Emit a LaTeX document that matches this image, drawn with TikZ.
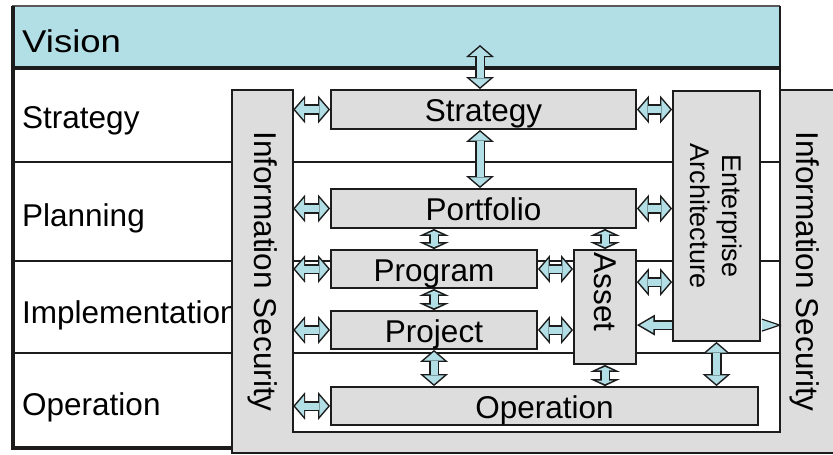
\documentclass[tikz,border=0pt]{standalone}
\usepackage{fontspec}
\setmainfont{Liberation Sans}
\newfontfamily\visionfont[FakeStretch=1.16]{Liberation Sans}
\usetikzlibrary{arrows.meta,calc}
\definecolor{skyband}{RGB}{178,222,229}
\definecolor{panelgray}{RGB}{221,221,221}
\definecolor{ink}{RGB}{28,28,28}
\newcommand{\bigtext}{\fontsize{31.5}{36}\selectfont}

\begin{document}
\begin{tikzpicture}[x=1pt,y=-1pt,
  box/.style={draw=ink,fill=panelgray,line width=1.8pt,inner sep=0pt,
    text height=28pt,text depth=4pt,font=\bigtext},
  rowlabel/.style={anchor=base west,inner sep=0pt,font=\bigtext},
  sidelabel/.style={rotate=-90,inner sep=0pt,align=center},
  rule/.style={draw=ink,line width=2.7pt},
  wire/.style={draw=ink,line width=10.5pt,<->,>={Triangle[length=12pt,width=28pt,line width=0pt]}},
  core/.style={draw=skyband,line width=7pt,shorten <=2pt,shorten >=2pt,<->,
    >={Triangle[length=8.8pt,width=20.5pt,line width=0pt]}},
  wireS/.style={wire,>={Triangle[length=7pt,width=30pt,line width=0pt]}},
  coreS/.style={core,>={Triangle[length=3.5pt,width=16.5pt,line width=0pt]}}]
  \useasboundingbox (0,0) rectangle (833,455);

  \fill[skyband] (12,6) rectangle (780,68);
  \draw[draw=gray!70!black,line width=1.2pt] (12,6) -- (780,6);
  \draw[rule,line width=3.2pt] (13,6) -- (13,448) -- (232,448);
  \draw[rule,line width=3.5pt] (12,68) -- (780,68);
  \foreach \y in {162,261,353}
    \draw[rule] (12,\y) -- (780,\y);
  \draw[rule] (780,6) -- (780,90);

  \node[rowlabel,font=\visionfont\bigtext] (vision) at (22,52) {Vision};
  \foreach \n/\y/\t in {rowS/128/Strategy, rowP/226/Planning,
      rowI/323/Implementation, rowO/415/Operation}
    \node[rowlabel] (\n) at (22,\y) {\t};

  \draw[draw=ink,fill=panelgray,line width=2.2pt] (232,90) -- (293,90) -- (293,432)
    -- (780,432) -- (780,90) -- (850,90) -- (850,453) -- (232,453) -- cycle;
  \node[inner sep=0pt,minimum width=61pt,minimum height=363pt,font=\bigtext]
    (infoL) at (262.5,271.5) {\rotatebox{-90}{Information Security}};
  \node[inner sep=0pt,minimum width=50pt,minimum height=363pt,font=\bigtext]
    (infoR) at (805,271.5) {\rotatebox{-90}{Information Security}};

  \foreach \n/\x/\y/\w/\h/\t in {strat/483.5/109.5/305/39/Strategy,
      port/483.5/208.5/305/39/Portfolio, prog/434/269/206/38/Program,
      proj/434/330/206/38/Project, oper/544.5/406/427/38/Operation,
      asset/605/307/62/114/{}, ea/716.5/216/87/250/{}}
    \node[box,minimum width=\w pt,minimum height=\h pt] (\n) at (\x,\y) {\t};
  \node[sidelabel,font=\bigtext] (assetText) at ($(asset.center)+(0,-15)$) {Asset};
  \node[sidelabel,font=\fontsize{27}{32}\selectfont] (eaText) at (ea.center)
    {Enterprise\\Architecture};

  \coordinate (visTip) at (480,45);
  \coordinate (visMid) at (visTip |- strat.south);
  \coordinate (assetA) at ($(asset.north east)+(0,33)$);
  \coordinate (assetB) at ($(asset.north east)+(0,76)$);

  \foreach \a/\b in {strat.west/infoL.east, port.west/infoL.east,
      prog.west/infoL.east, proj.west/infoL.east, oper.west/infoL.east,
      strat.east/ea.west, port.east/ea.west, prog.east/asset.west,
      proj.east/asset.west, assetA/ea.west}
  {
    \draw[wire] (\a) -- (\a -| \b);
    \draw[core] (\a) -- (\a -| \b);
  }
  \foreach \a/\b in {visTip/strat.north, visMid/port.north,
      proj.south/oper.north, ea.south/oper.north}
  {
    \draw[wire] (\a) -- (\a |- \b);
    \draw[core] (\a) -- (\a |- \b);
  }
  \foreach \a/\b in {prog.north/port.south, prog.south/proj.north,
      asset.north/port.south, asset.south/oper.north}
  {
    \draw[wireS] (\a) -- (\a |- \b);
    \draw[coreS] (\a) -- (\a |- \b);
  }

  \draw[wire,->,>={Triangle[length=18pt,width=21pt,line width=0pt]}]
    (assetB -| ea.west) -- (assetB);
  \draw[core,shorten <=0pt,shorten >=3pt,->,>={Triangle[length=13.5pt,width=15.5pt,line width=0pt]}]
    (assetB -| ea.west) -- (assetB);
  \draw[draw=ink,line width=1.2pt,fill=skyband] ($(assetB -| ea.east)+(1,-6)$)
    -- (assetB -| infoR.west) -- ($(assetB -| ea.east)+(1,6)$);
\end{tikzpicture}
\end{document}
